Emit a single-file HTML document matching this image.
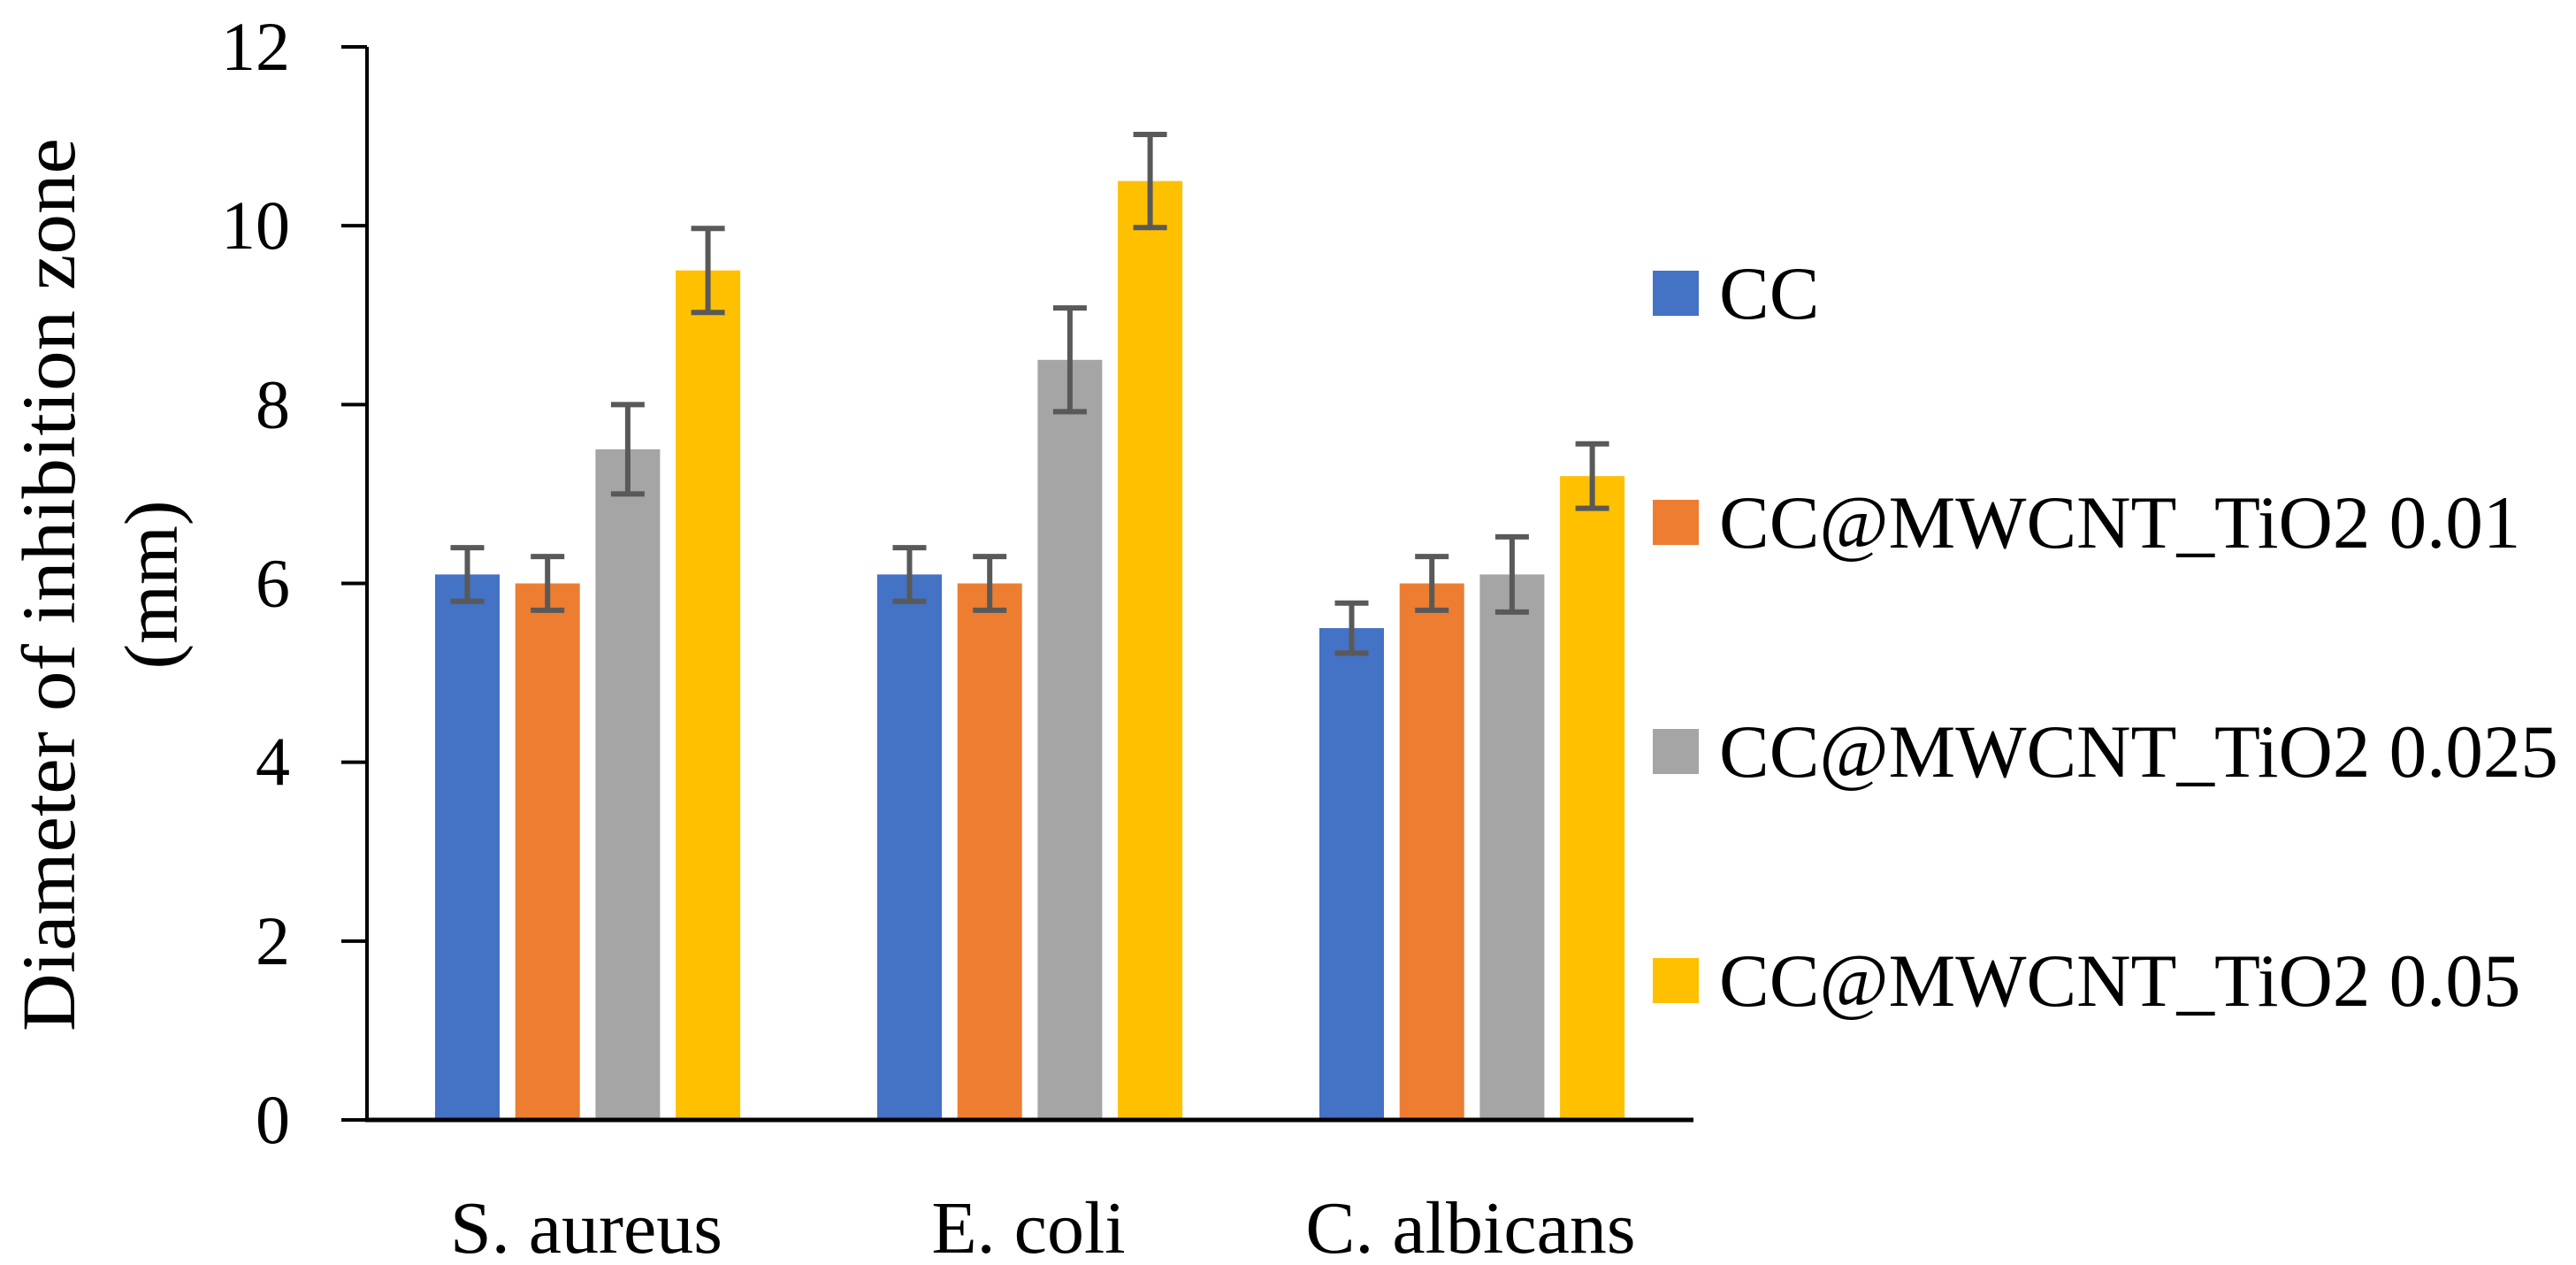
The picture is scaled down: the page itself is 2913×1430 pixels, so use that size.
<!DOCTYPE html>
<html><head><meta charset="utf-8"><style>
html,body{margin:0;padding:0;background:#fff;}
svg{display:block;font-family:"Liberation Serif",serif;}
</style></head><body>
<svg id="chart" width="2913" height="1430" viewBox="0 0 2913 1430">
<g id="plot"></g>
<g id="axes"></g>
<g id="legend"></g>
<text transform="translate(84,661) rotate(-90)" text-anchor="middle" font-size="86" textLength="1010" lengthAdjust="spacingAndGlyphs">Diameter of inhibition zone</text>
<text transform="translate(200,661) rotate(-90)" text-anchor="middle" font-size="86">(mm)</text>
</svg>
<script>
const categories = ["S. aureus", "E. coli", "C. albicans"];
const seriesNames = ["CC", "CC@MWCNT_TiO2 0.01", "CC@MWCNT_TiO2 0.025", "CC@MWCNT_TiO2 0.05"];
const seriesCC = [6.1, 6.1, 5.5];
const seriesT001 = [6.0, 6.0, 6.0];
const seriesT0025 = [7.5, 8.5, 6.1];
const seriesT005 = [9.5, 10.5, 7.2];
const errCC = [0.3, 0.3, 0.28];
const errT001 = [0.3, 0.3, 0.3];
const errT0025 = [0.5, 0.58, 0.42];
const errT005 = [0.47, 0.52, 0.36];
const yTicks = [0, 2, 4, 6, 8, 10, 12];
const colors = ["#4472c4", "#ed7d31", "#a5a5a5", "#ffc000"];

const NS = "http://www.w3.org/2000/svg";
const X0 = 415, CATW = 500, Y0 = 1266, Y12 = 53;
const yScale = v => Y0 - (v / 12) * (Y0 - Y12);
const xCat = i => X0 + i * CATW;
function mk(tag, attrs, parent) {
  const e = document.createElementNS(NS, tag);
  for (const k in attrs) e.setAttribute(k, attrs[k]);
  parent.appendChild(e);
  return e;
}
const plot = document.getElementById("plot");
const axes = document.getElementById("axes");
const legend = document.getElementById("legend");
const series = [seriesCC, seriesT001, seriesT0025, seriesT005];
const errs = [errCC, errT001, errT0025, errT005];
const BW = 73, STEP = 90.7, OFF = 113.5;

series.forEach((vals, s) => {
  vals.forEach((v, i) => {
    const cx = xCat(i) + OFF + s * STEP;
    const r = mk("rect", {x: cx - BW / 2, y: yScale(v), width: BW, height: Y0 - yScale(v), fill: colors[s]}, plot);
    
    
    const e = errs[s][i];
    const g = mk("g", {stroke: "#595959", "stroke-width": 6, fill: "none"}, plot);
    
    
    mk("line", {x1: cx, x2: cx, y1: yScale(v + e), y2: yScale(v - e)}, g);
    mk("line", {x1: cx - 19, x2: cx + 19, y1: yScale(v + e), y2: yScale(v + e)}, g);
    mk("line", {x1: cx - 19, x2: cx + 19, y1: yScale(v - e), y2: yScale(v - e)}, g);
  });
});

const ya = mk("line", {x1: X0, x2: X0, y1: Y12, y2: Y0, stroke: "#000", "stroke-width": 4}, axes);


const xa = mk("line", {x1: X0 - 2, x2: X0 + CATW * categories.length, y1: Y0, y2: Y0, stroke: "#000", "stroke-width": 5}, axes);


yTicks.forEach(t => {
  const y = yScale(t);
  const tk = mk("line", {x1: 386, x2: X0, y1: y, y2: y, stroke: "#000", "stroke-width": 4}, axes);
  
  
  const tx = mk("text", {x: 328, y: y + 26, "text-anchor": "end", "font-size": 78}, axes);
  tx.textContent = t;
  
  
});
categories.forEach((c, i) => {
  const tx = mk("text", {x: xCat(i) + CATW / 2 - 2, y: 1416, "text-anchor": "middle", "font-size": 84}, axes);
  tx.textContent = c;
  
  
});
seriesNames.forEach((n, s) => {
  const cy = 331 + s * 259;
  const g = mk("g", {}, legend);
  
  
  mk("rect", {x: 1869, y: cy - 25, width: 52, height: 51, fill: colors[s]}, g);
  const tx = mk("text", {x: 1944, y: cy + 29, "font-size": 85}, g);
  tx.textContent = n;
});
</script>
</body></html>
